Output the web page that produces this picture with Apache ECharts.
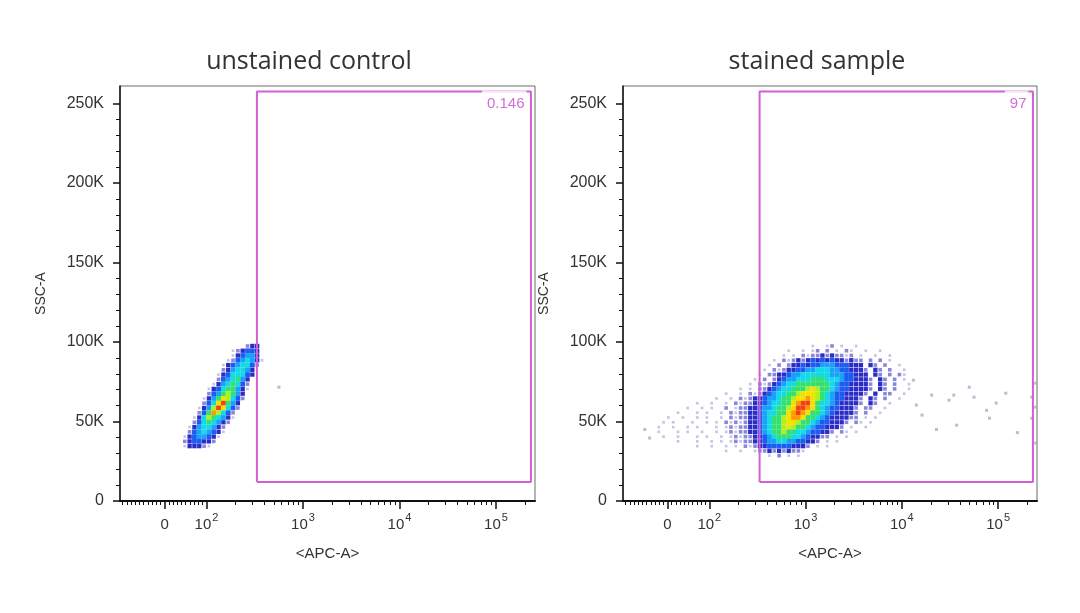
<!DOCTYPE html>
<html><head><meta charset="utf-8">
<script src="https://cdn.jsdelivr.net/npm/echarts@6/dist/echarts.min.js"></script>
<style>html,body{margin:0;padding:0;background:#fff}#c{width:1080px;height:613px}</style>
</head><body><div id="c"></div>
<script>
// ---------------- data ----------------
const panelTitles = ['unstained control', 'stained sample'];
const gatePercent = ['0.146', '97'];
const yTickValues = [0, 50, 100, 150, 200, 250];           // SSC-A (thousands)
const yTickLabels = ['0', '50K', '100K', '150K', '200K', '250K'];
const xTickValues = [0, 100, 1000, 10000, 100000];          // APC-A
const xTickLabels = ['0', '10|2', '10|3', '10|4', '10|5'];
const gateAPC = [333, 230000];                              // gate bounds on APC-A
const gateSSC = [12, 257.5];                                // gate bounds on SSC-A (K)

// density maps: cell = 0.05 display decade x 3K SSC; rows from top; [startCol, levels]
const cellW = 0.05, cellH = 3;
const unstainedOrigin = [1.75, 99];
const unstainedRows = [
  [0, '.............233.'],
  [0, '..........123443.'],
  [0, '..........134553.'],
  [0, '.........12456531'],
  [0, '........13456642.'],
  [0, '........2356653..'],
  [0, '.......13466643..'],
  [0, '.......2456753...'],
  [0, '......13567642...'],
  [0, '.....134677531...'],
  [0, '.....24578753....'],
  [0, '....135798642....'],
  [0, '....2469b753.....'],
  [0, '...1358b9642.....'],
  [0, '...247a8642......'],
  [0, '..136876531......'],
  [0, '..24676532.......'],
  [0, '.13566532........'],
  [0, '.24565431........'],
  [0, '13455431.........'],
  [0, '2344332..........'],
  [0, '133321...........']
];
const unstainedOutliers = [[2.75, 71.6]];

const stainedOrigin = [1.4, 99];
const stainedRows = [
  [33, '1..12.1..1'],
  [28, '1..1.12.2.1.21..1..1'],
  [27, '1.1.21223232212.1..1..1'],
  [25, '1.21232343434332322.2.2.1'],
  [24, '1.2.2334344555444333.32.2..1'],
  [23, '1.21233445566655443332.32.2..1'],
  [22, '1.223345566666655544333.32.2.21'],
  [21, '1.2.234556667776665443332.32.2.1.'],
  [20, '1.212345667777777654433332.32.2..1'],
  [18, '1.1.223456677789877654433332.32.2..1'],
  [15, '1..1.2123456677899987654433332.3.22..1'],
  [13, '1..1.21233455677899a98765443332.32.2..1'],
  [9,  '1..1..1.2122334566779abb97665433332.32..1.'],
  [7,  '1..1.1..2.1223345567789bba9765443332.22..1'],
  [5,  '1...1.1..1.2122334566779aba97765433332.2..1'],
  [3,  '1..1..1.1..1.2122334567789aa977654333322.1.1'],
  [2,  '1.1...1..1.1.21212334567789987765443332.21.1'],
  [1,  '1..1..1.1...1.1212233456778987765443332.1..1'],
  [1,  '1...1.1..1..1.12122334567787766544332.21.1'],
  [2,  '1..1...1.1..1.121223345677766543322.1.1'],
  [5,  '1...1..1.1.1212233455665544332.1.1'],
  [9,  '1..1..1.1.21233444443332.1.1'],
  [15, '1..1..12232323221.'],
  [24, '1.2.1.1']
];
const stainedOutliers = [
  [1.38, 39.6], [1.33, 45.0], [4.15, 60.3], [4.21, 54.0], [4.31, 66.6], [4.36, 45.0],
  [4.49, 63.4], [4.54, 66.6], [4.57, 47.7], [4.70, 71.6], [4.75, 65.3], [4.88, 57.0],
  [4.91, 52.1], [4.98, 61.6], [5.08, 67.8], [5.20, 43.0], [4.12, 76.0],
  [5.35, 65.3], [5.35, 52.1], [5.39, 74.1], [5.39, 59.0], [5.39, 36.4]
];

// ---------------- scales / helpers ----------------
const FONT = 'Liberation Sans';
const palette = [null, '#c4c4e4', '#8a86da', '#2a2cc8', '#1c5cf0', '#1aa2f8', '#12dae6',
                 '#34e070', '#aef022', '#f6e000', '#ff9a00', '#f04212'];
// biexponential-like display transform (decades)
const T = v => v >= 100 ? Math.log10(v) : 2 + (v - 100) * 0.00434;
const xMin = 1.1036, xMax = 5.404, yMin = 0, yMax = 261;
const xMajor = xTickValues.map(T);
const xMinorAPC = [];
for (let v = -100; v < 100; v += 10) if (v !== 0) xMinorAPC.push(v);
[100, 1000, 10000, 100000].forEach(dec => { for (let m = 2; m <= 9; m++) if (dec * m <= 250000) xMinorAPC.push(dec * m); });
const xMinor = xMinorAPC.map(T);
const yMinor = [];
for (let k = 10; k < 260; k += 10) if (k % 50 !== 0) yMinor.push(k);

function buildCells(origin, rows) {
  const out = [];
  rows.forEach((r, j) => {
    const s = r[1];
    for (let k = 0; k < s.length; k++) {
      if (s[k] === '.') continue;
      out.push([origin[0] + (r[0] + k) * cellW, origin[1] - j * cellH, parseInt(s[k], 16)]);
    }
  });
  return out;
}
const shrink = [0, 0.55, 0.75, 0.9, 1.0, 1.02, 1.02, 1.02, 1.02, 1.02, 1.02, 1.02];
function cellRender(params, api) {
  const x = api.value(0), y = api.value(1), lv = api.value(2);
  const p0 = api.coord([x, y]);
  const p1 = api.coord([x + cellW, y - cellH]);
  const w = p1[0] - p0[0], h = p1[1] - p0[1];
  const f = shrink[lv];
  return { type: 'rect',
    shape: { x: p0[0] + w * (1 - f) / 2, y: p0[1] + h * (1 - f) / 2, width: w * f, height: h * f },
    style: { fill: palette[lv] } };
}
function xFmt(v) {
  let bi = 0;
  xMajor.forEach((m, i) => { if (Math.abs(m - v) < Math.abs(xMajor[bi] - v)) bi = i; });
  const t = xTickLabels[bi];
  if (t.indexOf('|') >= 0) { const p = t.split('|'); return '{b|' + p[0] + '}{s|' + p[1] + '}'; }
  return '{b|' + t + '}';
}
function yFmt(v) {
  let bi = 0;
  yTickValues.forEach((m, i) => { if (Math.abs(m - v) < Math.abs(yTickValues[bi] - v)) bi = i; });
  return yTickLabels[bi];
}

const grids = [
  { left: 120, top: 86, width: 415, height: 415, show: true, borderColor: '#6a6a6a', borderWidth: 1 },
  { left: 623, top: 86, width: 414, height: 415, show: true, borderColor: '#6a6a6a', borderWidth: 1 }
];
const xAxes = [], yAxes = [], series = [];
[0, 1].forEach(gi => {
  xAxes.push({ type: 'value', gridIndex: gi, min: xMin, max: xMax, position: 'bottom',
    axisLine: { show: true, onZero: false, lineStyle: { color: '#111', width: 2 } },
    axisTick: { show: true, length: 8, customValues: xMajor, lineStyle: { color: '#111', width: 1.5 } },
    axisLabel: { customValues: xMajor, formatter: xFmt, margin: 11,
      rich: { b: { fontFamily: FONT, fontSize: 15, color: '#333', lineHeight: 20, verticalAlign: 'bottom' },
              s: { fontFamily: FONT, fontSize: 11, color: '#333', lineHeight: 20, verticalAlign: 'top', padding: [0, 0, 0, 1] } } },
    splitLine: { show: false },
    name: '<APC-A>', nameLocation: 'middle', nameGap: 45,
    nameTextStyle: { fontFamily: FONT, fontSize: 15, color: '#333' } });
  xAxes.push({ type: 'value', gridIndex: gi, min: xMin, max: xMax, position: 'bottom',
    axisLine: { show: false, onZero: false },
    axisTick: { show: true, length: 4, customValues: xMinor, lineStyle: { color: '#111', width: 1 } },
    axisLabel: { show: false }, splitLine: { show: false } });
  yAxes.push({ type: 'value', gridIndex: gi, min: yMin, max: yMax, position: 'left',
    axisLine: { show: true, onZero: false, lineStyle: { color: '#111', width: 1.5 } },
    axisTick: { show: true, length: 7, customValues: yTickValues, lineStyle: { color: '#111', width: 1.5 } },
    axisLabel: { customValues: yTickValues, formatter: yFmt, margin: 16,
      fontFamily: FONT, fontSize: 16, color: '#333' },
    splitLine: { show: false },
    name: 'SSC-A', nameLocation: 'middle', nameGap: 72, nameRotate: 90,
    nameTextStyle: { fontFamily: FONT, fontSize: 14, color: '#333' } });
  yAxes.push({ type: 'value', gridIndex: gi, min: yMin, max: yMax, position: 'left',
    axisLine: { show: false, onZero: false },
    axisTick: { show: true, length: 4, customValues: yMinor, lineStyle: { color: '#111', width: 1 } },
    axisLabel: { show: false }, splitLine: { show: false } });

  const xi = gi * 2, yi = gi * 2;
  const cells = gi === 0 ? buildCells(unstainedOrigin, unstainedRows) : buildCells(stainedOrigin, stainedRows);
  const outl = gi === 0 ? unstainedOutliers : stainedOutliers;
  series.push({ type: 'custom', xAxisIndex: xi, yAxisIndex: yi, data: cells, renderItem: cellRender,
    encode: { x: 0, y: 1 }, clip: true, silent: true, z: 2 });
  series.push({ type: 'scatter', xAxisIndex: xi, yAxisIndex: yi, data: outl, symbol: 'rect', symbolSize: 3,
    itemStyle: { color: '#aaaac6' }, silent: true, z: 2, clip: true });
  const g0 = T(gateAPC[0]), g1 = T(gateAPC[1]);
  series.push({ type: 'line', xAxisIndex: xi, yAxisIndex: yi, symbol: 'none', silent: true, z: 5,
    data: [[g0, gateSSC[0]], [g0, gateSSC[1]], [g1, gateSSC[1]], [g1, gateSSC[0]], [g0, gateSSC[0]]],
    lineStyle: { color: '#d060d4', width: 2 } });
  series.push({ type: 'scatter', xAxisIndex: xi, yAxisIndex: yi, symbolSize: 1, silent: true, z: 6,
    itemStyle: { color: 'rgba(0,0,0,0)' },
    data: [[xMax, gateSSC[1]]],
    label: { show: true, position: 'left', distance: 8, offset: [0, 12],
      formatter: gatePercent[gi], fontFamily: FONT, fontSize: 15, color: '#c44ac6',
      backgroundColor: '#fff', padding: [9, 2, 2, 5] } });
});

const chart = echarts.init(document.getElementById('c'), null, { renderer: 'canvas' });
chart.setOption({
  animation: false,
  backgroundColor: '#fff',
  title: [
    { text: panelTitles[0], left: 304, top: 44, textAlign: 'center',
      textStyle: { fontFamily: 'Open Sans', fontSize: 25, fontWeight: 'normal', color: '#333' } },
    { text: panelTitles[1], left: 812, top: 44, textAlign: 'center',
      textStyle: { fontFamily: 'Open Sans', fontSize: 25, fontWeight: 'normal', color: '#333' } }
  ],
  grid: grids, xAxis: xAxes, yAxis: yAxes, series: series
});
</script></body></html>
